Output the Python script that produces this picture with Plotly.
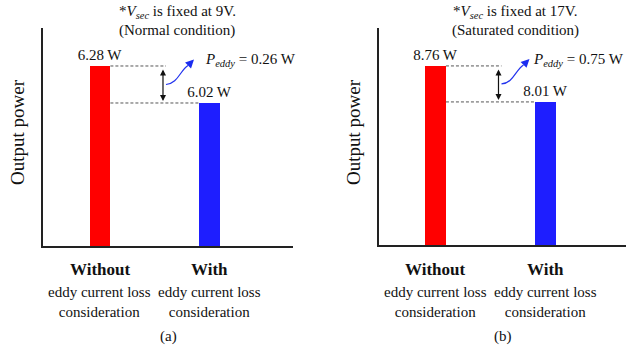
import plotly.graph_objects as go

W, H = 626, 349

# ---------------- data ----------------
categories = ["Without", "With"]
category_note = "eddy current loss<br>consideration"
normal_power = [6.28, 6.02]        # W, Vsec = 9 V
saturated_power = [8.76, 8.01]     # W, Vsec = 17 V
p_eddy_values = [0.26, 0.75]       # W
fixed_voltages = ["9V", "17V"]
conditions = ["(Normal condition)", "(Saturated condition)"]
panel_tags = ["(a)", "(b)"]
bar_colors = ["#ff0000", "#1e1eff"]

FONT = "Liberation Serif, Times New Roman, serif"

# ---------------- layout geometry (pixels) ----------------
panels = [
    dict(xa="x", ya="y", px=(43, 293), py=(246, 28), xr=(-0.5205, 1.7626), yr=(5.015, 6.547),
         title_px=177, label_px=(203, "left"), vals=normal_power),
    dict(xa="x2", ya="y2", px=(379, 626), py=(245, 28), xr=(-0.5136, 1.732), yr=(5.03, 9.55),
         title_px=515, label_px=(626, "right"), vals=saturated_power),
]
BAR_W = 0.19


def px_to_x(p, px):
    (a, b), (r0, r1) = p["px"], p["xr"]
    return r0 + (px - a) / (b - a) * (r1 - r0)


def x_to_px(p, xv):
    (a, b), (r0, r1) = p["px"], p["xr"]
    return a + (xv - r0) / (r1 - r0) * (b - a)


def px_to_y(p, py):
    (a, b), (r0, r1) = p["py"], p["yr"]
    return r0 + (py - a) / (b - a) * (r1 - r0)


def y_to_px(p, yv):
    (a, b), (r0, r1) = p["py"], p["yr"]
    return a + (yv - r0) / (r1 - r0) * (b - a)


def pxp(x):
    return x / W


def pyp(y):
    return 1 - y / H


fig = go.Figure()
shapes, annotations = [], []

for i, p in enumerate(panels):
    vals = p["vals"]
    fig.add_trace(go.Bar(
        x=[0, 1], y=vals, width=BAR_W,
        marker=dict(color=bar_colors, line=dict(width=0)),
        text=[f"{v:.2f} W" for v in vals], textposition="outside", constraintext="none",
        textfont=dict(family=FONT, size=15, color="#111"),
        cliponaxis=False, xaxis=p["xa"], yaxis=p["ya"], showlegend=False,
        hoverinfo="skip",
    ))
    xref, yref = p["xa"], p["ya"]
    arrow_x = px_to_x(p, x_to_px(p, 0) + 63)
    top_end = px_to_x(p, x_to_px(p, 0) + 66)
    # dashed guides
    shapes.append(dict(type="line", xref=xref, yref=yref, x0=BAR_W / 2, x1=top_end,
                       y0=vals[0], y1=vals[0], line=dict(color="#555", width=1, dash="3px,2px")))
    shapes.append(dict(type="line", xref=xref, yref=yref, x0=BAR_W / 2, x1=1 - BAR_W / 2,
                       y0=vals[1], y1=vals[1], line=dict(color="#555", width=1, dash="3px,2px")))
    # double arrow
    annotations.append(dict(x=arrow_x, y=vals[1], ax=arrow_x, ay=vals[0], xref=xref, yref=yref,
                            axref=xref, ayref=yref, text="", showarrow=True, arrowhead=2,
                            startarrowhead=2, arrowside="end+start", arrowsize=1, arrowwidth=1.2,
                            arrowcolor="#111", standoff=2, startstandoff=2))
    # curved blue arrow
    ax_px = x_to_px(p, arrow_x)
    mid_px = y_to_px(p, (vals[0] + vals[1]) / 2)
    pts = [(ax_px + 3, mid_px), (ax_px + 15, mid_px - 1), (ax_px + 17, mid_px - 14), (ax_px + 25, mid_px - 19)]
    d = "M {},{} C {},{} {},{} {},{}".format(*[v for (a, b) in pts for v in (px_to_x(p, a), px_to_y(p, b))])
    shapes.append(dict(type="path", xref=xref, yref=yref, path=d,
                       line=dict(color="#2233ee", width=1.2)))
    tip = (ax_px + 31, mid_px - 25)
    annotations.append(dict(x=px_to_x(p, tip[0]), y=px_to_y(p, tip[1]), xref=xref, yref=yref,
                            ax=-7, ay=7, text="", showarrow=True, arrowhead=2, arrowsize=1.4,
                            arrowwidth=1.2, arrowcolor="#1a2cf0"))
    lx, lanchor = p["label_px"]
    annotations.append(dict(x=pxp(lx), y=pyp(tip[1] + 1), xref="paper", yref="paper",
                            xanchor=lanchor, yanchor="middle", showarrow=False, xshift=0,
                            text=f"<i>P</i><sub><i>eddy</i></sub> = {p_eddy_values[i]:.2f} W",
                            font=dict(family=FONT, size=15, color="#111")))
    # titles
    annotations.append(dict(x=pxp(p["title_px"]), y=pyp(12), xref="paper", yref="paper",
                            showarrow=False, xanchor="center", yanchor="middle",
                            text=f"*<i>V</i><sub><i>sec</i></sub> is fixed at {fixed_voltages[i]}.",
                            font=dict(family=FONT, size=15, color="#111")))
    annotations.append(dict(x=pxp(p["title_px"]), y=pyp(30), xref="paper", yref="paper",
                            showarrow=False, xanchor="center", yanchor="middle",
                            text=conditions[i], font=dict(family=FONT, size=15, color="#111")))
    # y label
    annotations.append(dict(x=pxp(p["px"][0] - 26), y=pyp(132), xref="paper", yref="paper",
                            showarrow=False, textangle=-90, xanchor="center", yanchor="middle",
                            text="Output power", font=dict(family=FONT, size=19, color="#111")))
    # category labels
    for k, c in enumerate(categories):
        annotations.append(dict(x=k, y=pyp(269), xref=xref, yref="paper", showarrow=False,
                                xanchor="center", yanchor="middle", text=f"<b>{c}</b>",
                                font=dict(family=FONT, size=17, color="#111")))
        annotations.append(dict(x=k, y=pyp(302), xref=xref, yref="paper", showarrow=False,
                                xanchor="center", yanchor="middle", text=category_note,
                                font=dict(family=FONT, size=15, color="#111")))
    # panel tag
    annotations.append(dict(x=pxp((p["px"][0] + p["px"][1]) / 2), y=pyp(336), xref="paper",
                            yref="paper", showarrow=False, xanchor="center", yanchor="middle",
                            text=panel_tags[i], font=dict(family=FONT, size=15, color="#111")))

axis_common = dict(showline=True, linecolor="#222", linewidth=1.5, showticklabels=False,
                   ticks="", showgrid=False, zeroline=False, fixedrange=True, mirror=False)
layout = dict(
    width=W, height=H, margin=dict(l=0, r=0, t=0, b=0),
    paper_bgcolor="white", plot_bgcolor="white",
    shapes=shapes, annotations=annotations, bargap=0,
    font=dict(family=FONT),
)
for p in panels:
    xk = "xaxis" if p["xa"] == "x" else "xaxis2"
    yk = "yaxis" if p["ya"] == "y" else "yaxis2"
    layout[xk] = dict(axis_common, domain=[pxp(p["px"][0]), pxp(p["px"][1])], range=list(p["xr"]),
                      anchor=p["ya"])
    layout[yk] = dict(axis_common, domain=[pyp(p["py"][0]), pyp(p["py"][1])], range=list(p["yr"]),
                      anchor=p["xa"])
fig.update_layout(**layout)
fig.write_html("out.html")
